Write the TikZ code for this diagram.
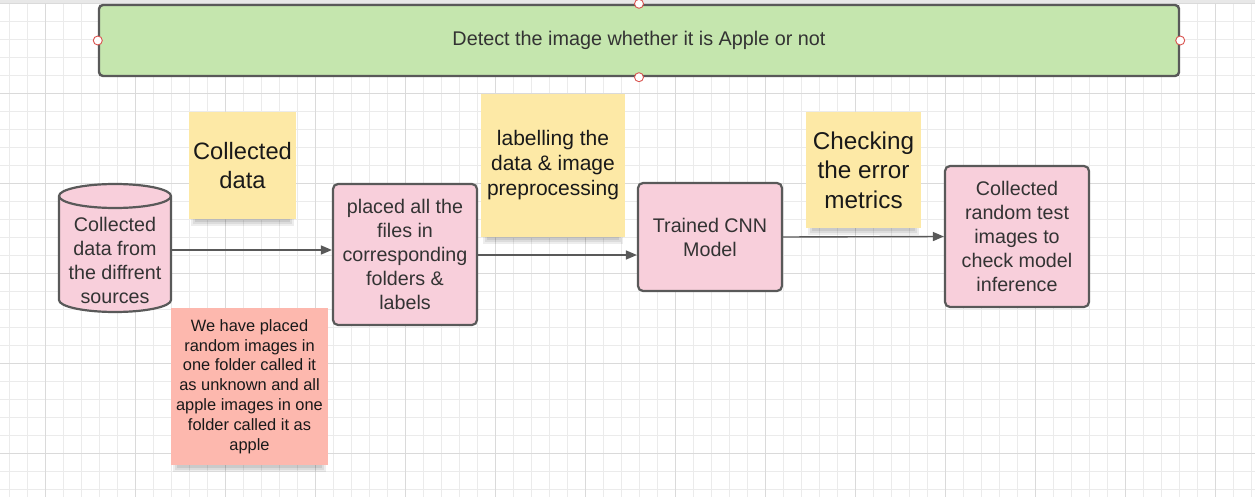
\documentclass[tikz,border=0pt]{standalone}
\usepackage{fontspec}
\setmainfont{Liberation Sans}
\usetikzlibrary{arrows.meta}
\definecolor{gridc}{HTML}{EBEBEB}
\definecolor{gridm}{HTML}{DADADA}
\definecolor{edgec}{HTML}{595959}
\definecolor{greenf}{HTML}{C5E6AE}
\definecolor{pinkf}{HTML}{F8CFDB}
\definecolor{yellowf}{HTML}{FDE9A6}
\definecolor{redf}{HTML}{FDB8AE}
\definecolor{handlec}{HTML}{D9534F}
\definecolor{txt}{HTML}{333333}
\tikzset{
  proc/.style={draw=edgec, line width=2.2pt, fill=pinkf, rounded corners=5pt, align=center, text=txt, font=\fontsize{19.7}{24}\selectfont, inner sep=0pt},
  note/.style={fill=#1, align=center, text=black!90, inner sep=0pt},
  arr/.style={draw=edgec, line width=1.4pt, -{Triangle[length=11pt,width=9pt]}},
  handle/.style={circle, draw=handlec, fill=white, line width=0.9pt, minimum size=9pt, inner sep=0pt},
}
\begin{document}
\begin{tikzpicture}[x=1pt,y=-1pt]
\useasboundingbox (0,0) rectangle (1255,497);
\fill[white] (0,0) rectangle (1255,497);
% grid
\foreach \gx in {9.3,27.3,...,1255} \draw[gridc, line width=0.8pt] (\gx,0) -- (\gx,497);
\foreach \gy in {3.3,21.3,...,497} \draw[gridc, line width=0.8pt] (0,\gy) -- (1255,\gy);
\foreach \gx in {45.3,135.3,...,1255} \draw[gridm, line width=0.9pt] (\gx,0) -- (\gx,497);
\foreach \gy in {3.3,93.3,...,497} \draw[gridm, line width=0.9pt] (0,\gy) -- (1255,\gy);
\fill[black!9] (0,0) rectangle (1255,3);

% title box
\node[draw=edgec, line width=2.4pt, fill=greenf, rounded corners=4pt, minimum width=1080pt, minimum height=71pt, text=txt, font=\fontsize{19.8}{24}\selectfont] (top) at (639,40.5) {Detect the image whether it is Apple or not};
\node[handle] (h1) at (top.west) {};
\node[handle] (h2) at (top.north) {};
\node[handle] (h3) at (top.east) {};
\node[handle] (h4) at (top.south) {};

% note shadows
\foreach \xa/\xb/\yb in {189/296/219, 481/625/237, 806/921/228, 171/328/465}{
  \fill[black, opacity=0.07] (\xa+2,\yb-4) rectangle (\xb-2,\yb+7);
  \fill[black, opacity=0.07] (\xa+4,\yb-4) rectangle (\xb-4,\yb+5);
  \fill[black, opacity=0.08] (\xa+6,\yb-4) rectangle (\xb-6,\yb+3);
}

% sticky notes
\node[note=yellowf, minimum width=107pt, minimum height=107pt, font=\fontsize{23.7}{29}\selectfont] (n1) at (242.5,165.5) {Collected\\data};
\node[note=yellowf, minimum width=144pt, minimum height=143pt, font=\fontsize{21}{25}\selectfont] (n2) at (553,165.5) {labelling the\\data \& image\\preprocessing};
\node[note=yellowf, minimum width=115pt, minimum height=116pt, font=\fontsize{24.3}{29.5}\selectfont] (n3) at (863.5,170) {Checking\\the error\\metrics};
\node[note=redf, minimum width=157pt, minimum height=157pt, font=\fontsize{16.4}{19.8}\selectfont] (n4) at (249.5,386.5) {We have placed\\random images in\\one folder called it\\as unknown and all\\apple images in one\\folder called it as\\apple};

% cylinder
\filldraw[draw=edgec, fill=pinkf, line width=2.2pt]
  (59,196) -- (59,300) .. controls (59,306.6) and (84.1,312) .. (115,312)
  .. controls (145.9,312) and (171,306.6) .. (171,300) -- (171,196)
  .. controls (171,189.4) and (145.9,184) .. (115,184)
  .. controls (84.1,184) and (59,189.4) .. (59,196) -- cycle;
\draw[draw=edgec, line width=2.2pt]
  (59,196) .. controls (59,202.6) and (84.1,208) .. (115,208)
  .. controls (145.9,208) and (171,202.6) .. (171,196);
\node[align=center, text=txt, font=\fontsize{19.7}{24}\selectfont, minimum width=112pt, minimum height=104pt, inner sep=0pt] (cyl) at (115,260) {Collected\\data from\\the diffrent\\sources};

% process boxes
\node[proc, minimum width=144pt, minimum height=141pt] (b2) at (405,254.5) {placed all the\\files in\\corresponding\\folders \&\\labels};
\node[proc, minimum width=144pt, minimum height=108pt] (b3) at (710,237) {Trained CNN\\Model};
\node[proc, minimum width=144pt, minimum height=141pt] (b4) at (1017,236.5) {Collected\\random test\\images to\\check model\\inference};

% connectors
\draw[arr] (cyl.east |- 0,250) -- (b2.west |- 0,250);
\draw[arr] (b2.east |- 0,255) -- (b3.west |- 0,255);
\draw[arr] (b3.east) -- (b4.west);
\end{tikzpicture}
\end{document}
